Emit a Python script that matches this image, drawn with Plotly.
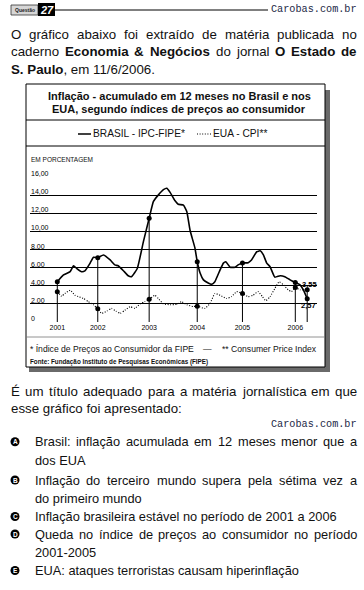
import plotly.graph_objects as go

W, H = 364, 590

# ---------------- data ----------------
brasil_x = [2001.00, 2001.13, 2001.27, 2001.34, 2001.41, 2001.51, 2001.58, 2001.69, 2001.76, 2001.85,
            2001.97, 2002.11, 2002.21, 2002.28, 2002.39, 2002.49, 2002.56, 2002.68, 2002.81, 2002.93,
            2003.02, 2003.12, 2003.23, 2003.30, 2003.37, 2003.47, 2003.54, 2003.65, 2003.72, 2003.79,
            2003.89, 2003.94, 2004.00, 2004.07, 2004.17, 2004.24, 2004.31, 2004.42, 2004.49, 2004.54,
            2004.63, 2004.73, 2004.80, 2004.89, 2005.01, 2005.08, 2005.19, 2005.26, 2005.33, 2005.40,
            2005.47, 2005.57, 2005.68, 2005.78, 2005.89, 2006.00, 2006.10, 2006.17, 2006.25]
brasil_y = [4.45, 5.2, 5.55, 6.2, 5.9, 5.55, 5.65, 6.5, 7.15, 7.1,
            7.4, 6.85, 6.3, 6.2, 5.65, 5.1, 5.0, 5.9, 8.9, 11.45,
            13.3, 14.0, 14.6, 14.75, 14.3, 13.4, 13.0, 12.9, 12.2, 10.1,
            8.2, 6.65, 5.4, 4.65, 4.3, 4.15, 4.45, 5.75, 6.5, 6.65,
            6.05, 6.05, 6.3, 6.5, 6.55, 6.85, 7.75, 7.85, 7.4, 6.5,
            6.1, 4.95, 5.1, 5.0, 4.65, 4.35, 4.1, 3.55, 2.57]
eua_x = [2001.00, 2001.09, 2001.16, 2001.27, 2001.37, 2001.44, 2001.55, 2001.65, 2001.76, 2001.85,
         2001.93, 2002.04, 2002.14, 2002.23, 2002.32, 2002.42, 2002.53, 2002.63, 2002.74, 2002.84,
         2002.93, 2003.05, 2003.12, 2003.23, 2003.37, 2003.51, 2003.61, 2003.72, 2003.86, 2003.94,
         2004.10, 2004.21, 2004.31, 2004.42, 2004.56, 2004.66, 2004.77, 2004.89, 2005.01, 2005.11,
         2005.22, 2005.31, 2005.38, 2005.47, 2005.57, 2005.66, 2005.75, 2005.85, 2005.92, 2006.00,
         2006.10, 2006.25]
eua_y = [3.35, 2.85, 3.15, 3.5, 2.95, 2.8, 2.6, 2.25, 1.9, 1.45,
         0.95, 1.2, 1.5, 1.2, 0.95, 1.3, 1.7, 1.5, 2.0, 2.25,
         2.5, 2.95, 2.6, 2.0, 1.9, 1.95, 2.25, 1.9, 1.7, 1.75,
         1.5, 2.05, 3.15, 2.95, 2.6, 2.8, 3.35, 3.15, 2.8, 2.95,
         3.35, 2.8, 2.35, 2.8, 3.7, 4.45, 4.1, 3.55, 3.35, 3.8,
         3.55, 3.55]
marker_x = [2001.00, 2001.85, 2002.93, 2003.94, 2004.89, 2006.00, 2006.25]
year_ticks = [2001.00, 2001.85, 2002.93, 2003.94, 2004.89, 2006.00]
year_labels = ["2001", "2002", "2003", "2004", "2005", "2006"]
y_ticks = [0, 2, 4, 6, 8, 10, 12, 14, 16]
y_tick_labels = ["0", "2,00", "4,00", "6,00", "8,00", "10,00", "12,00", "14,00", "16,00"]
end_labels = ["3,55", "2,57"]

# ---------------- helpers ----------------
FONT = "Liberation Sans, Arial, sans-serif"
MONO = "Liberation Mono, Courier New, monospace"

REG = {' ': 278, '!': 278, '&': 667, '*': 389, ',': 278, '-': 333, '.': 278, '/': 278, ':': 278,
       '(': 333, ')': 333}
for c in '0123456789':
    REG[c] = 556
REG.update(dict(zip('ABCDEFGHIJKLMNOPQRSTUVWXYZ',
                    [667, 667, 722, 722, 667, 611, 778, 722, 278, 500, 667, 556, 833, 722, 778, 667,
                     778, 722, 667, 611, 722, 667, 944, 667, 667, 611])))
REG.update(dict(zip('abcdefghijklmnopqrstuvwxyz',
                    [556, 556, 500, 556, 556, 278, 556, 556, 222, 222, 500, 222, 833, 556, 556, 556,
                     556, 333, 500, 278, 556, 500, 722, 500, 500, 500])))
REG.update({'á': 556, 'à': 556, 'â': 556, 'ã': 556, 'é': 556, 'ê': 556, 'í': 278, 'ó': 556,
            'ô': 556, 'õ': 556, 'ú': 556, 'ç': 500, 'É': 667, 'Í': 278})
BOLD = {' ': 278, '&': 722, ',': 278, '-': 333, '.': 278, ':': 333, '(': 333, ')': 333}
for c in '0123456789':
    BOLD[c] = 556
BOLD.update(dict(zip('ABCDEFGHIJKLMNOPQRSTUVWXYZ',
                     [722, 722, 722, 722, 667, 611, 778, 722, 278, 556, 722, 611, 833, 722, 778, 667,
                      778, 722, 667, 611, 722, 667, 944, 667, 667, 611])))
BOLD.update(dict(zip('abcdefghijklmnopqrstuvwxyz',
                     [556, 611, 556, 611, 556, 333, 611, 611, 278, 278, 556, 278, 889, 611, 611, 611,
                      611, 389, 556, 333, 611, 556, 778, 556, 556, 500])))
BOLD.update({'á': 556, 'ã': 556, 'â': 556, 'é': 556, 'ê': 556, 'í': 278, 'ó': 611, 'ô': 611,
             'õ': 611, 'ú': 611, 'ç': 556})


def tw(s, size, bold=False):
    tab = BOLD if bold else REG
    return sum(tab.get(c, 556) for c in s) * size / 1000.0


def X(px):
    return px / W


def Y(py):
    return 1 - py / H


annotations = []
shapes = []


def add_text(txt, x, y, size, xanchor='left', color='#111', family=FONT, yanchor='middle'):
    annotations.append(dict(text=txt, x=X(x), y=Y(y), xref='paper', yref='paper',
                            xanchor=xanchor, yanchor=yanchor, showarrow=False,
                            borderpad=0, borderwidth=0,
                            font=dict(family=family, size=size, color=color)))


def to_html(s):
    parts = s.split('**')
    return ''.join(('<b>%s</b>' % p) if i % 2 else p for i, p in enumerate(parts))


def line_text(s, x0, x1, y, size, justify):
    if not justify:
        add_text(to_html(s), x0, y, size)
        return
    words = []
    for i, seg in enumerate(s.split('**')):
        for w in seg.split():
            words.append((w, i % 2 == 1))
    widths = [tw(w, size, b) for w, b in words]
    gap = (x1 - x0 - sum(widths)) / (len(words) - 1)
    x = x0
    for (w, b), wd in zip(words, widths):
        add_text('<b>%s</b>' % w if b else w, x, y, size)
        x += wd + gap


def rect(x0, y0, x1, y1, fill=None, line=None, lw=1, layer='below'):
    shapes.append(dict(type='rect', xref='paper', yref='paper', x0=X(x0), x1=X(x1), y0=Y(y1), y1=Y(y0),
                       fillcolor=fill if fill else 'rgba(0,0,0,0)',
                       line=dict(color=line if line else 'rgba(0,0,0,0)', width=lw if line else 0),
                       layer=layer))


def hline(x0, x1, y, color='black', lw=1, dash='solid', layer='below'):
    shapes.append(dict(type='line', xref='paper', yref='paper', x0=X(x0), x1=X(x1), y0=Y(y), y1=Y(y),
                       line=dict(color=color, width=lw, dash=dash), layer=layer))


DOT = '1px,1.6px'

# ---------------- page header ----------------
rect(11, 5, 38, 15, fill='#d6d6d6', line='#333', lw=0.8, layer='above')
rect(38, 3, 55, 16, fill='black', layer='above')
add_text('<b>Questão</b>', 24.5, 10, 5, xanchor='center', color='#222')
add_text('<b><i>27</i></b>', 46.5, 9.8, 11, xanchor='center', color='white')
hline(55, 268, 10, lw=1, layer='above')
add_text('Carobas.com.br', 357, 10, 10.2, xanchor='right', color='#232846', family=MONO)

para_size = 13.3
line_text("O gráfico abaixo foi extraído de matéria publicada no", 11, 357, 35, para_size, True)
line_text("caderno **Economia & Negócios** do jornal **O Estado de**", 11, 357, 52, para_size, True)
line_text("**S. Paulo**, em 11/6/2006.", 11, 357, 69, para_size, False)

# ---------------- chart frame ----------------
BX0, BX1, BY0, BY1 = 26, 325, 84, 367
rect(BX0 + 3, BY0 + 6, BX1 + 5, BY1 + 5, fill='#6a6a6a')
rect(BX0, BY0, BX1, BY1, fill='white', line='black', lw=1)
hline(BX0, BX1, 120)
hline(BX0, BX1, 146)
hline(BX0, BX1, 337, color='#777', lw=0.8)

add_text('<b>Inflação - acumulado em 12 meses no Brasil e nos</b>', 179, 96, 11, xanchor='center')
add_text('<b>EUA, segundo índices de preços ao consumidor</b>', 179, 109, 11, xanchor='center')

hline(78, 91, 134, lw=1.5, layer='above')
add_text('BRASIL - IPC-FIPE*', 93, 134, 10.2)
hline(197, 211, 134, lw=1, dash=DOT, layer='above')
add_text('EUA - CPI**', 213, 134, 10.2)

add_text('EM PORCENTAGEM', 31, 160, 6.5)

add_text('* Índice de Preços ao Consumidor da FIPE', 30, 349, 8.6)
add_text('—', 207, 349, 8.6, xanchor='center')
add_text('** Consumer Price Index', 317, 349, 8.6, xanchor='right')
add_text('<b>Fonte: Fundação Instituto de Pesquisas Econômicas (FIPE)</b>', 30, 362, 6.3)

# ---------------- question ----------------
line_text("É um título adequado para a matéria jornalística em que", 11, 357, 391, para_size, True)
line_text("esse gráfico foi apresentado:", 11, 357, 408, para_size, False)
add_text('Carobas.com.br', 357, 424, 10.2, xanchor='right', color='#232846', family=MONO)

opt_size = 12.8
options = [
    ('A', ["Brasil: inflação acumulada em 12 meses menor que a", "dos EUA"], [441.7, 460]),
    ('B', ["Inflação do terceiro mundo supera pela sétima vez a", "do primeiro mundo"], [480, 498.3]),
    ('C', ["Inflação brasileira estável no período de 2001 a 2006"], [516.5]),
    ('D', ["Queda no índice de preços ao consumidor no período", "2001-2005"], [534, 552]),
    ('E', ["EUA: ataques terroristas causam hiperinflação"], [570.5]),
]
for letter, lines, ys in options:
    shapes.append(dict(type='circle', xref='paper', yref='paper', x0=X(10.5), x1=X(19.5),
                       y0=Y(ys[0] + 4.5), y1=Y(ys[0] - 4.5), fillcolor='black',
                       line=dict(color='black', width=0), layer='above'))
    add_text('<b>%s</b>' % letter, 15, ys[0], 6.5, xanchor='center', color='white')
    for i, (ln, yy) in enumerate(zip(lines, ys)):
        line_text(ln, 35, 357, yy, opt_size, justify=(i < len(lines) - 1))

# ---------------- chart traces ----------------
b_at = dict(zip(brasil_x, brasil_y))
e_at = dict(zip(eua_x, eua_y))
vx, vy = [], []
for mx in marker_x:
    vx += [mx, mx, None]
    vy += [0, max(b_at[mx], e_at[mx]), None]

fig = go.Figure()
fig.add_trace(go.Scatter(x=vx, y=vy, mode='lines', line=dict(color='black', width=1),
                         hoverinfo='skip'))
fig.add_trace(go.Scatter(x=eua_x, y=eua_y, mode='lines', name='EUA - CPI**',
                         line=dict(color='black', width=1.1, dash=DOT, shape='spline', smoothing=0.4)))
fig.add_trace(go.Scatter(x=brasil_x, y=brasil_y, mode='lines', name='BRASIL - IPC-FIPE*',
                         line=dict(color='black', width=1.6, shape='spline', smoothing=0.4)))
fig.add_trace(go.Scatter(x=marker_x, y=[e_at[m] for m in marker_x], mode='markers',
                         marker=dict(color='black', size=5), hoverinfo='skip'))
fig.add_trace(go.Scatter(x=marker_x, y=[b_at[m] for m in marker_x], mode='markers',
                         marker=dict(color='black', size=5), hoverinfo='skip'))

# y tick labels sit above the grid lines inside the plot
for v, lab in zip(y_ticks, y_tick_labels):
    annotations.append(dict(text=lab, x=X(30.5), xref='paper', y=v, yref='y', xanchor='left',
                            yanchor='bottom', showarrow=False, borderpad=0, borderwidth=0,
                            font=dict(family=FONT, size=7, color='black')))
last = marker_x[-1]
annotations.append(dict(text='<b>%s</b>' % end_labels[0], x=last, y=e_at[last], xref='x', yref='y',
                        xanchor='center', yanchor='bottom', xshift=2, yshift=1, showarrow=False,
                        borderpad=0, borderwidth=0, font=dict(family=FONT, size=7.5, color='black')))
annotations.append(dict(text='<b>%s</b>' % end_labels[1], x=last, y=b_at[last], xref='x', yref='y',
                        xanchor='center', yanchor='top', xshift=1, yshift=-2, showarrow=False,
                        borderpad=0, borderwidth=0, font=dict(family=FONT, size=7.5, color='black')))

x_left = 2001.0 - (57.3 - 30) / 47.6
x_right = 2006.0 + (317 - 295.3) / 47.6

fig.update_layout(
    width=W, height=H, margin=dict(l=0, r=0, t=0, b=0),
    paper_bgcolor='white', plot_bgcolor='rgba(0,0,0,0)',
    showlegend=False,
    xaxis=dict(domain=[X(30), X(317)], range=[x_left, x_right], tickmode='array',
               tickvals=year_ticks, ticktext=year_labels, showgrid=False, zeroline=False,
               showline=False, ticks='', tickfont=dict(family=FONT, size=7, color='black'),
               fixedrange=True),
    yaxis=dict(domain=[Y(322), Y(177)], range=[0, 16], tickmode='array', tickvals=y_ticks,
               showticklabels=False, showgrid=True, gridcolor='black', gridwidth=1,
               zeroline=False, showline=False, ticks='', fixedrange=True),
    annotations=annotations,
    shapes=shapes,
)

fig.write_html("out.html", config={'displayModeBar': False},
               post_script="document.body.style.margin='0';document.body.style.padding='0';"
                           "document.body.style.overflow='hidden';")
